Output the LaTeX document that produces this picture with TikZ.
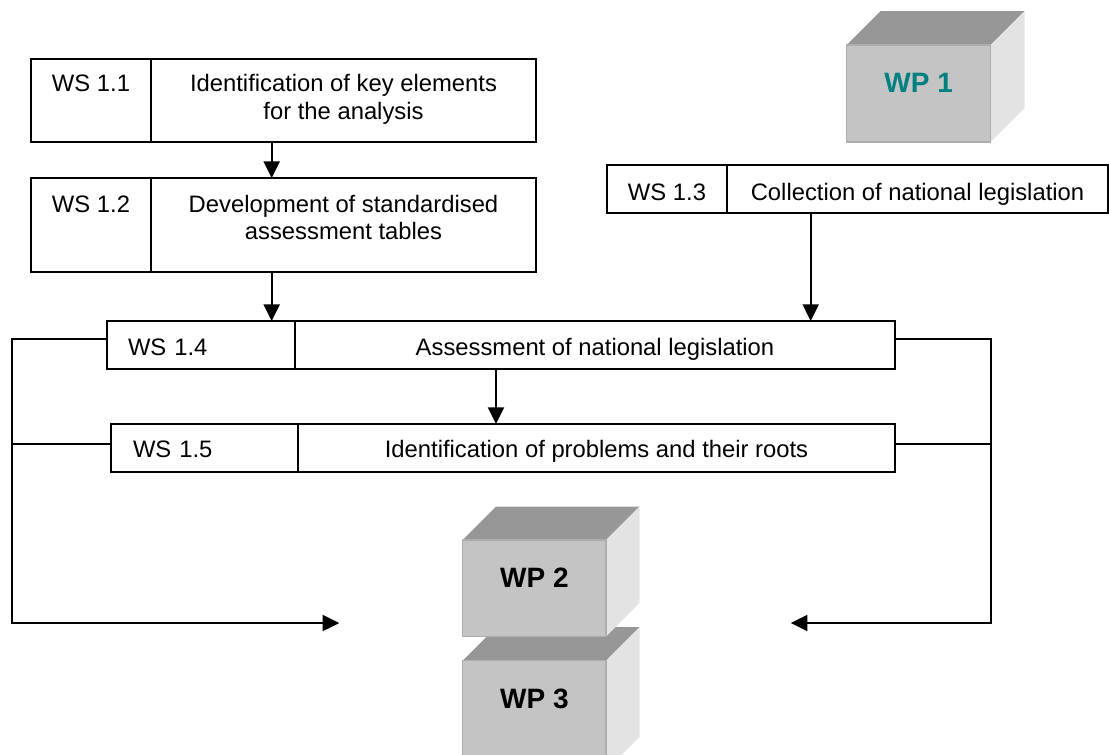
\documentclass[tikz,border=0pt]{standalone}
\usepackage{fontspec}
\setmainfont{Liberation Sans}
\usetikzlibrary{arrows.meta,calc}
\definecolor{wpfront}{HTML}{C4C4C4}
\definecolor{wptop}{HTML}{979797}
\definecolor{wpside}{HTML}{E3E3E3}
\definecolor{wpedge}{HTML}{ADADAD}
\definecolor{tealtext}{HTML}{008080}
\newcommand\wsfont{\fontsize{17.85}{20.6}\selectfont}
\newcommand\wpfont{\fontsize{21}{25}\selectfont\bfseries}
% x, y (top-left of front face), width, height, depth
\newcommand\wpcube[5]{%
  \fill[wptop] (#1,#2) -- (#1+#5,#2-#5) -- (#1+#3+#5,#2-#5) -- (#1+#3,#2) -- cycle;
  \fill[wpside] (#1+#3,#2) -- (#1+#3+#5,#2-#5) -- (#1+#3+#5,#2+#4-#5) -- (#1+#3,#2+#4) -- cycle;
  \filldraw[fill=wpfront,draw=wpedge,line width=0.8pt] (#1,#2) rectangle (#1+#3,#2+#4);
}
\begin{document}
\begin{tikzpicture}[x=0.75pt,y=-0.75pt,
  cell/.style={draw,line width=1.6pt,inner sep=0pt,outer sep=0pt,anchor=north west,font=\wsfont},
  conn/.style={line width=1.6pt},
  arr/.style={conn,-{Triangle[length=12.5pt,width=12pt]}},
  thinconn/.style={line width=1.1pt},
  wptext/.style={font=\wpfont,anchor=base,inner sep=0pt}]
\useasboundingbox (0,0) rectangle (1109,754);
\clip (0,0) rectangle (1109,754);

% cubes
\wpcube{846.7}{45}{144}{97}{34}
\wpcube{462.7}{660.7}{143.3}{110}{33.5}
\wpcube{462.7}{540}{143.3}{96.7}{33.5}
\node[wptext,text=tealtext] (wp1) at (918.7,92.7) {WP 1};
\node[wptext] (wp2) at (534.4,587.3) {WP 2};
\node[wptext] (wp3) at (534.4,708.3) {WP 3};

% WS 1.1
\node[cell,minimum width=90pt,minimum height=62.25pt,text height=24.5pt,text depth=37.75pt] (ws11l) at (31,59) {WS 1.1};
\node[cell,minimum width=288.75pt,minimum height=62.25pt,text height=24.5pt,text depth=37.75pt] (ws11t) at (151,59)
  {\begin{tabular}[t]{@{}c@{}}Identification of key elements\\for the analysis\end{tabular}};
% WS 1.2
\node[cell,minimum width=90pt,minimum height=70.5pt,text height=25.5pt,text depth=45pt] (ws12l) at (31,178) {WS 1.2};
\node[cell,minimum width=288.75pt,minimum height=70.5pt,text height=25.5pt,text depth=45pt] (ws12t) at (151,178)
  {\begin{tabular}[t]{@{}c@{}}Development of standardised\\assessment tables\end{tabular}};
% WS 1.3
\node[cell,minimum width=90pt,minimum height=36pt,text height=26.25pt,text depth=9.75pt] (ws13l) at (607,165) {WS 1.3};
\node[cell,minimum width=285.75pt,minimum height=36pt,text height=26.25pt,text depth=9.75pt] (ws13t) at (727,165) {Collection of national legislation};
% WS 1.4
\node[cell,minimum width=141pt,minimum height=36pt,text height=25.5pt,text depth=10.5pt,text width=109.5pt,align=left] (ws14l) at (107,321) {WS 1.4};
\node[cell,minimum width=450pt,minimum height=36pt,text height=25.5pt,text depth=10.5pt] (ws14t) at (295,321) {Assessment of national legislation};
% WS 1.5
\node[cell,minimum width=140.25pt,minimum height=36pt,text height=24.75pt,text depth=11.25pt,text width=107.25pt,align=left] (ws15l) at (111,424) {WS 1.5};
\node[cell,minimum width=447.75pt,minimum height=36pt,text height=24.75pt,text depth=11.25pt] (ws15t) at (298,424) {Identification of problems and their roots};

% vertical arrows
\coordinate (xa) at (271.7,0);
\coordinate (xb) at (810.7,0);
\coordinate (xc) at (496,0);
\draw[arr] (ws11t.south -| xa) -- (ws12t.north -| xa);
\draw[arr] (ws12t.south -| xa) -- (ws14l.north -| xa);
\draw[arr] (ws13t.south -| xb) -- (ws14t.north -| xb);
\draw[arr] (ws14t.south -| xc) -- (ws15t.north -| xc);

% side brackets
\coordinate (lc) at (12,623);
\coordinate (lt) at (339.3,623);
\coordinate (rc) at (991,623);
\coordinate (rt) at (790.7,623);
\draw[arr] ([yshift=4.5pt]ws14l.west) -| (lc) -- (lt);
\draw[arr] ([yshift=4.5pt]ws14t.east) -| (rc) -- (rt);
\coordinate (l15) at ([yshift=3pt]ws15l.west);
\coordinate (r15) at ([yshift=3pt]ws15t.east);
\draw[thinconn] (l15) -- (l15 -| lc);
\draw[thinconn] (r15) -- (r15 -| rc);
\end{tikzpicture}
\end{document}
